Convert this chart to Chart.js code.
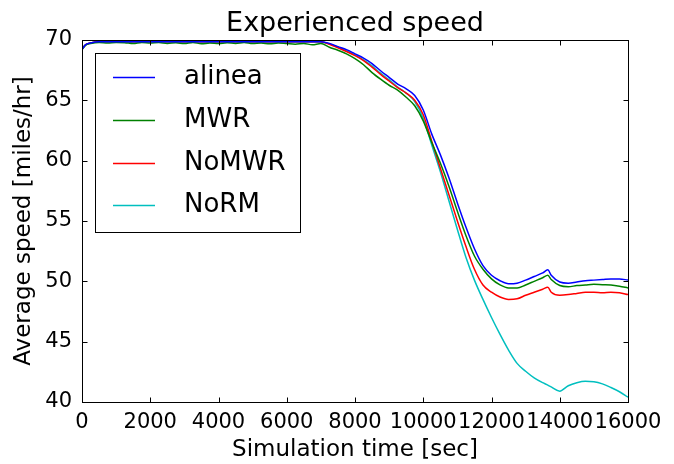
<!DOCTYPE html>
<html>
<head>
<meta charset="utf-8">
<script src="https://cdn.jsdelivr.net/npm/chart.js@4"></script>
<style>
html,body{margin:0;padding:0;background:#fff;}
#wrap{width:674px;height:464px;}
</style>
</head>
<body>
<div id="wrap"><canvas id="c" width="674" height="464"></canvas></div>
<script>
const times = [0,100,250,500,750,1000,1250,1500,1750,2000,2250,2500,2750,3000,3250,3500,3750,4000,4250,4500,4750,5000,5250,5500,5750,6000,6250,6500,6750,7000,
7250,7500,7750,8000,8250,8500,8750,9000,9250,9500,9750,10000,10250,10500,10750,11000,11250,11500,11750,12000,12250,12500,12750,13000,13250,13500,13650,13750,
14000,14250,14500,14750,15000,15250,15500,15750,16000];

const alinea = [69.2,69.6,69.75,69.85,69.85,69.85,69.85,69.85,69.85,69.85,69.85,69.85,69.85,69.85,69.85,69.85,69.85,69.85,69.85,69.85,69.85,69.85,69.85,69.85,69.85,69.85,69.85,69.85,69.85,69.85,
69.72,69.45,69.2,68.85,68.5,68.05,67.45,66.9,66.35,65.95,65.4,64.2,62.2,60.5,58.6,56.5,54.5,52.7,51.3,50.5,50.05,49.8,49.85,50.1,50.4,50.7,50.95,50.5,
49.95,49.85,49.95,50.05,50.1,50.15,50.2,50.2,50.1];

const mwr = [69.2,69.55,69.7,69.8,69.75,69.8,69.78,69.7,69.8,69.75,69.8,69.72,69.78,69.7,69.8,69.68,69.75,69.7,69.78,69.72,69.8,69.7,69.75,69.68,69.75,69.7,69.65,69.72,69.6,69.7,
69.4,69.15,68.85,68.45,67.95,67.3,66.75,66.25,65.85,65.25,64.55,63.3,61.5,59.8,57.9,55.8,53.8,52.1,51.0,50.2,49.7,49.45,49.45,49.7,50.0,50.3,50.5,50.15,
49.65,49.55,49.65,49.7,49.75,49.72,49.7,49.6,49.45];

const nomwr = [69.25,69.6,69.75,69.85,69.85,69.85,69.85,69.85,69.85,69.85,69.85,69.85,69.85,69.85,69.85,69.85,69.85,69.85,69.85,69.85,69.85,69.85,69.85,69.85,69.85,69.85,69.85,69.85,69.85,69.85,
69.65,69.35,69.05,68.7,68.3,67.75,67.15,66.6,66.05,65.6,65.0,63.8,61.6,59.4,57.2,55.0,52.9,51.0,49.7,49.1,48.7,48.5,48.55,48.85,49.1,49.35,49.5,49.1,
48.85,48.9,49.0,49.1,49.1,49.05,49.1,49.05,48.9];

const norm = [69.25,69.6,69.75,69.85,69.85,69.85,69.85,69.85,69.85,69.85,69.85,69.85,69.85,69.85,69.85,69.85,69.85,69.85,69.85,69.85,69.85,69.85,69.85,69.85,69.85,69.85,69.85,69.85,69.85,69.85,
69.68,69.4,69.1,68.75,68.35,67.85,67.25,66.7,66.1,65.6,64.9,63.5,61.3,59.1,56.7,54.3,52.0,50.1,48.5,47.0,45.6,44.3,43.2,42.55,42.0,41.6,41.4,41.25,
40.9,41.35,41.6,41.72,41.68,41.5,41.2,40.85,40.4];

const seriesNames = ['alinea','MWR','NoMWR','NoRM'];
const seriesColors = ['#0000ff','#008000','#ff0000','#00bfbf'];
const seriesValues = [alinea, mwr, nomwr, norm];
const chartTitle = 'Experienced speed';

const FONT = "'DejaVu Sans', sans-serif";

const framePlugin = {
  id: 'frame',
  afterDatasetsDraw(chart) {
    const {ctx, chartArea, scales} = chart;
    const {left, right, top, bottom} = chartArea;
    const L = Math.round(left) + 0.5, R = Math.round(right) + 0.5;
    const T = Math.round(top) + 0.5, B = Math.round(bottom) + 0.5;
    ctx.save();
    ctx.strokeStyle = '#000';
    ctx.lineWidth = 1;
    ctx.strokeRect(L, T, R - L, B - T);
    const tl = 5;
    ctx.beginPath();
    scales.x.ticks.forEach(t => {
      const px = Math.round(scales.x.getPixelForValue(t.value)) + 0.5;
      ctx.moveTo(px, B); ctx.lineTo(px, B - tl);
      ctx.moveTo(px, T); ctx.lineTo(px, T + tl);
    });
    scales.y.ticks.forEach(t => {
      const py = Math.round(scales.y.getPixelForValue(t.value)) + 0.5;
      ctx.moveTo(L, py); ctx.lineTo(L + tl, py);
      ctx.moveTo(R, py); ctx.lineTo(R - tl, py);
    });
    ctx.stroke();

    // title
    ctx.fillStyle = '#000';
    ctx.font = '27px ' + FONT;
    ctx.textAlign = 'center';
    ctx.textBaseline = 'alphabetic';
    ctx.fillText(chartTitle, (left + right) / 2, 31);

    // legend box
    const bx = 95.5, by = 53.5, bw = 205, bh = 179;
    ctx.fillStyle = '#fff';
    ctx.fillRect(bx, by, bw, bh);
    ctx.strokeRect(bx, by, bw, bh);
    const rows = [77, 120, 163, 205];
    ctx.font = '26px ' + FONT;
    ctx.textBaseline = 'middle';
    ctx.textAlign = 'left';
    seriesNames.forEach((name, i) => {
      ctx.strokeStyle = seriesColors[i];
      ctx.lineWidth = 1.5;
      ctx.beginPath();
      ctx.moveTo(113, rows[i] + 0.5);
      ctx.lineTo(155, rows[i] + 0.5);
      ctx.stroke();
      ctx.fillStyle = '#000';
      ctx.fillText(name, 184, rows[i]);
    });
    ctx.restore();
  }
};

new Chart(document.getElementById('c'), {
  type: 'line',
  data: {
    datasets: seriesNames.map((name, i) => ({
      label: name,
      data: times.map((t, j) => ({x: t, y: seriesValues[i][j]})),
      borderColor: seriesColors[i],
      backgroundColor: seriesColors[i],
      borderWidth: 1.5,
      pointRadius: 0,
      fill: false,
      cubicInterpolationMode: 'monotone'
    }))
  },
  options: {
    responsive: false,
    animation: false,
    devicePixelRatio: 1,
    layout: {padding: {top: 40, right: 46, left: 0, bottom: 0}},
    plugins: {
      legend: {display: false},
      tooltip: {enabled: false},
      title: {display: false}
    },
    scales: {
      x: {
        type: 'linear',
        min: 0, max: 16000,
        afterFit(s) { s.height = 62; },
        ticks: {stepSize: 2000, autoSkip: false, maxRotation: 0, padding: 8, color: '#000',
                font: {family: FONT, size: 21},
                callback: v => String(v)},
        grid: {display: false, drawTicks: false},
        border: {display: false},
        title: {display: true, text: 'Simulation time [sec]', color: '#000',
                font: {family: FONT, size: 23}, padding: {top: 0, bottom: 0}}
      },
      y: {
        type: 'linear',
        min: 40, max: 70,
        afterFit(s) { s.width = 82; },
        ticks: {stepSize: 5, autoSkip: false, padding: 10, color: '#000',
                font: {family: FONT, size: 21},
                callback: v => String(v)},
        grid: {display: false, drawTicks: false},
        border: {display: false},
        title: {display: true, text: 'Average speed [miles/hr]', color: '#000',
                font: {family: FONT, size: 23}, padding: {top: 10, bottom: 0}}
      }
    }
  },
  plugins: [framePlugin]
});
</script>
</body>
</html>
